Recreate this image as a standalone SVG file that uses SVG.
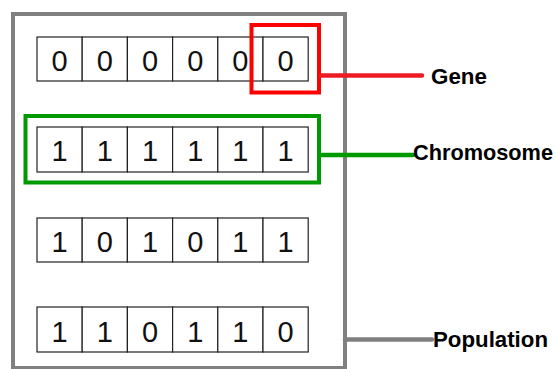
<svg xmlns="http://www.w3.org/2000/svg" width="557" height="369" viewBox="0 0 557 369">
<style>
.cell{fill:#fff;stroke:#222;stroke-width:1.2}
.d{font-family:"Liberation Sans",Arial,sans-serif;font-size:29px;fill:#111;text-anchor:middle}
.lbl{font-family:"Liberation Sans",Arial,sans-serif;font-weight:bold;font-size:22px;fill:#000}
</style>
<rect width="557" height="369" fill="#fff"/>
<g id="population">
<rect x="13" y="14" width="332" height="354" fill="none" stroke="#808080" stroke-width="4"/>
</g>
<g id="chromosome1">
<rect class="cell" x="37" y="37" width="45.2" height="44"/>
<rect class="cell" x="82.2" y="37" width="45.2" height="44"/>
<rect class="cell" x="127.4" y="37" width="45.2" height="44"/>
<rect class="cell" x="172.6" y="37" width="45.2" height="44"/>
<rect class="cell" x="217.8" y="37" width="45.2" height="44"/>
<rect class="cell" x="263" y="37" width="45.2" height="44"/>
<text class="d" x="59.6" y="71">0</text>
<text class="d" x="104.8" y="71">0</text>
<text class="d" x="150" y="71">0</text>
<text class="d" x="195.2" y="71">0</text>
<text class="d" x="240.4" y="71">0</text>
<text class="d" x="285.6" y="71">0</text>
</g>
<g id="chromosome2">
<rect class="cell" x="37" y="127" width="45.2" height="45"/>
<rect class="cell" x="82.2" y="127" width="45.2" height="45"/>
<rect class="cell" x="127.4" y="127" width="45.2" height="45"/>
<rect class="cell" x="172.6" y="127" width="45.2" height="45"/>
<rect class="cell" x="217.8" y="127" width="45.2" height="45"/>
<rect class="cell" x="263" y="127" width="45.2" height="45"/>
<text class="d" x="59.6" y="161">1</text>
<text class="d" x="104.8" y="161">1</text>
<text class="d" x="150" y="161">1</text>
<text class="d" x="195.2" y="161">1</text>
<text class="d" x="240.4" y="161">1</text>
<text class="d" x="285.6" y="161">1</text>
</g>
<g id="chromosome3">
<rect class="cell" x="37" y="218" width="45.2" height="44"/>
<rect class="cell" x="82.2" y="218" width="45.2" height="44"/>
<rect class="cell" x="127.4" y="218" width="45.2" height="44"/>
<rect class="cell" x="172.6" y="218" width="45.2" height="44"/>
<rect class="cell" x="217.8" y="218" width="45.2" height="44"/>
<rect class="cell" x="263" y="218" width="45.2" height="44"/>
<text class="d" x="59.6" y="252">1</text>
<text class="d" x="104.8" y="252">0</text>
<text class="d" x="150" y="252">1</text>
<text class="d" x="195.2" y="252">0</text>
<text class="d" x="240.4" y="252">1</text>
<text class="d" x="285.6" y="252">1</text>
</g>
<g id="chromosome4">
<rect class="cell" x="37" y="307" width="45.2" height="45"/>
<rect class="cell" x="82.2" y="307" width="45.2" height="45"/>
<rect class="cell" x="127.4" y="307" width="45.2" height="45"/>
<rect class="cell" x="172.6" y="307" width="45.2" height="45"/>
<rect class="cell" x="217.8" y="307" width="45.2" height="45"/>
<rect class="cell" x="263" y="307" width="45.2" height="45"/>
<text class="d" x="59.6" y="342">1</text>
<text class="d" x="104.8" y="342">1</text>
<text class="d" x="150" y="342">0</text>
<text class="d" x="195.2" y="342">1</text>
<text class="d" x="240.4" y="342">1</text>
<text class="d" x="285.6" y="342">0</text>
</g>
<g id="gene-highlight">
<rect x="251.5" y="25" width="67.5" height="67.5" fill="none" stroke="#ff0000" stroke-width="4"/>
</g>
<g id="chromosome-highlight">
<rect x="25.5" y="116" width="293.5" height="66.5" fill="none" stroke="#009900" stroke-width="4"/>
</g>
<g id="connectors" stroke-width="4.5" stroke-linecap="round" fill="none">
<line x1="321" y1="75.5" x2="422" y2="75.5" stroke="#ed1c24"/>
<line x1="321" y1="155" x2="413" y2="155" stroke="#009900"/>
<line x1="345" y1="339.5" x2="432" y2="339.5" stroke="#808080"/>
</g>
<g id="labels">
<text class="lbl" x="431" y="84" textLength="56" lengthAdjust="spacingAndGlyphs">Gene</text>
<text class="lbl" x="413" y="159.5" textLength="140" lengthAdjust="spacingAndGlyphs">Chromosome</text>
<text class="lbl" x="433" y="346.5" textLength="115" lengthAdjust="spacingAndGlyphs">Population</text>
</g>
</svg>
